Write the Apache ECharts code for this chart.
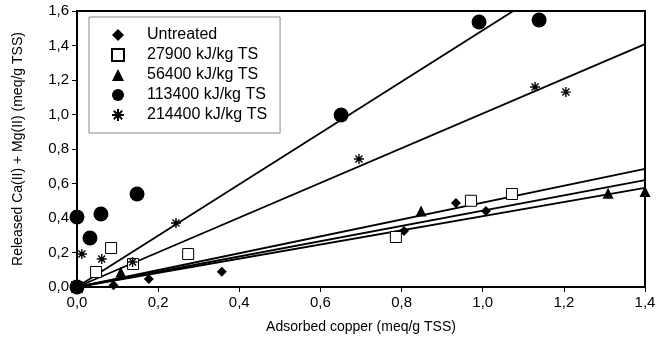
<!DOCTYPE html>
<html>
<head>
<meta charset="utf-8">
<script src="https://cdn.jsdelivr.net/npm/echarts@6/dist/echarts.min.js"></script>
<style>
  html, body { margin: 0; padding: 0; background: #fff; }
  #chart { width: 667px; height: 346px; }
</style>
</head>
<body>
<div id="chart"></div>
<script>
// series names (legend order)
var seriesNames = ["Untreated", "27900 kJ/kg TS", "56400 kJ/kg TS", "113400 kJ/kg TS", "214400 kJ/kg TS"];

// adsorbed copper (x) / released Ca+Mg (y), meq/g TSS
var untreated = [[0, 0], [0.09, 0.01], [0.177, 0.046], [0.357, 0.088], [0.806, 0.325], [0.934, 0.487], [1.008, 0.44]];
var e27900 = [[0, 0], [0.047, 0.087], [0.084, 0.226], [0.138, 0.133], [0.274, 0.191], [0.786, 0.29], [0.971, 0.5], [1.072, 0.539]];
var e56400 = [[0, 0], [0.108, 0.085], [0.848, 0.44], [1.309, 0.544], [1.4, 0.553]];
var e113400 = [[0, 0], [0, 0.406], [0.032, 0.284], [0.059, 0.423], [0.148, 0.539], [0.651, 0.997], [0.991, 1.536], [1.139, 1.548]];
var e214400 = [[0.012, 0.191], [0.061, 0.162], [0.137, 0.145], [0.244, 0.371], [0.695, 0.742], [1.129, 1.159], [1.205, 1.13]];

// fitted slopes of regression lines through origin
var fitSlopes = [0.443, 0.489, 0.41, 1.488, 1.006];

var xTicks = [0, 0.2, 0.4, 0.6, 0.8, 1.0, 1.2, 1.4];
var yTicks = [0, 0.2, 0.4, 0.6, 0.8, 1.0, 1.2, 1.4, 1.6];

var asterisk = "path://M5,0L5,10M0,5L10,5M1.5,1.5L8.5,8.5M8.5,1.5L1.5,8.5";
var symbols = ["diamond", "rect", "triangle", "circle", asterisk];
var sizes = [10, 11, 11, 15, 10];
var allData = [untreated, e27900, e56400, e113400, e214400];

function comma(v) { return v.toFixed(1).replace(".", ","); }

var series = [];
for (var i = 0; i < allData.length; i++) {
  var hollow = i === 1 || i === 4;
  series.push({
    name: seriesNames[i],
    type: "scatter",
    symbol: symbols[i],
    symbolSize: sizes[i],
    data: allData[i],
    z: 3,
    itemStyle: hollow
      ? { color: i === 1 ? "#fff" : "rgba(0,0,0,0)", borderColor: "#000", borderWidth: i === 1 ? 1 : 1.4, opacity: 1 }
      : { color: "#000", opacity: 1 }
  });
}
// regression lines
for (var j = 0; j < fitSlopes.length; j++) {
  var xe = xTicks[xTicks.length - 1];
  series.push({
    type: "line",
    data: [[0, 0], [xe, fitSlopes[j] * xe]],
    symbol: "none",
    clip: true,
    silent: true,
    z: 2,
    lineStyle: { color: "#000", width: 1.8 }
  });
}

var chart = echarts.init(document.getElementById("chart"));
chart.setOption({
  animation: false,
  textStyle: { fontFamily: "Liberation Sans, Arial, sans-serif" },
  grid: { left: 77, right: 22, top: 11, bottom: 59, show: true, borderColor: "#000", borderWidth: 2, backgroundColor: "transparent" },
  legend: {
    data: seriesNames,
    orient: "vertical",
    left: 89,
    top: 17,
    padding: [10, 13, 10, 22],
    itemGap: 4,
    itemWidth: 12,
    itemHeight: 12,
    borderColor: "#888",
    borderWidth: 1,
    backgroundColor: "#fff",
    textStyle: { fontSize: 16, color: "#000", padding: [0, 0, 0, 18] }
  },
  xAxis: {
    type: "value",
    min: 0,
    max: 1.4,
    interval: 0.2,
    name: "Adsorbed copper (meq/g TSS)",
    nameLocation: "middle",
    nameGap: 33,
    nameTextStyle: { fontSize: 14, color: "#000" },
    axisLine: { lineStyle: { color: "#000", width: 2 } },
    axisTick: { show: true, length: 5, lineStyle: { color: "#000" } },
    axisLabel: { fontSize: 15, color: "#000", margin: 8, formatter: comma },
    splitLine: { show: false }
  },
  yAxis: {
    type: "value",
    min: 0,
    max: 1.6,
    interval: 0.2,
    name: "Released Ca(II) + Mg(II) (meq/g TSS)",
    nameLocation: "middle",
    nameGap: 52,
    nameTextStyle: { fontSize: 14, color: "#000" },
    axisLine: { lineStyle: { color: "#000", width: 2 } },
    axisTick: { show: true, length: 5, lineStyle: { color: "#000" } },
    axisLabel: { fontSize: 15, color: "#000", margin: 8, formatter: comma },
    splitLine: { show: false }
  },
  series: series
});
</script>
</body>
</html>
